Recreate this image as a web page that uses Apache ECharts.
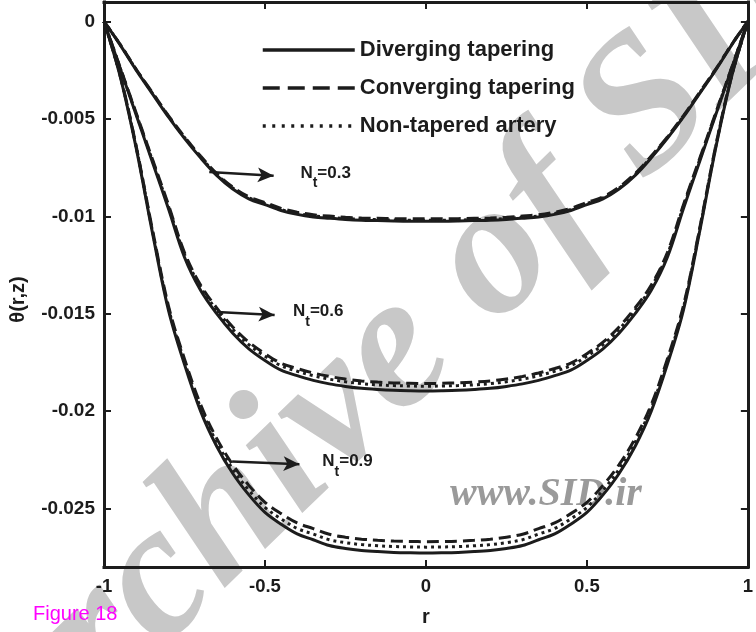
<!DOCTYPE html>
<html>
<head>
<meta charset="utf-8">
<script src="https://cdn.jsdelivr.net/npm/echarts@6/dist/echarts.min.js"></script>
<style>
  html, body { margin: 0; padding: 0; background: #fff; }
  #chart { width: 756px; height: 632px; }
</style>
</head>
<body>
<div id="chart"></div>
<script>
// Radial coordinate r
const r = [-1, -0.95, -0.9, -0.85, -0.8, -0.75, -0.7, -0.65, -0.6, -0.55, -0.5, -0.45, -0.4, -0.35, -0.3, -0.25, -0.2, -0.15, -0.1, -0.05, 0,
           0.05, 0.1, 0.15, 0.2, 0.25, 0.3, 0.35, 0.4, 0.45, 0.5, 0.55, 0.6, 0.65, 0.7, 0.75, 0.8, 0.85, 0.9, 0.95, 1];

// Temperature profile theta(r,z), Nt = 0.3
const div03 = [0, -0.0012, -0.0025, -0.0037, -0.0049, -0.0060, -0.0070, -0.0079, -0.0086, -0.0091, -0.0094, -0.0097, -0.0099, -0.01003, -0.0101, -0.01016, -0.0102, -0.01022, -0.01024, -0.01025, -0.01025,
               -0.01025, -0.01024, -0.01022, -0.0102, -0.01016, -0.0101, -0.01003, -0.0099, -0.0097, -0.0094, -0.0091, -0.0086, -0.0079, -0.0070, -0.0060, -0.0049, -0.0037, -0.0025, -0.0012, 0];
const con03 = [0, -0.00117, -0.00245, -0.00364, -0.00483, -0.00592, -0.00691, -0.0078, -0.0085, -0.0090, -0.00929, -0.00959, -0.00979, -0.00992, -0.00999, -0.01005, -0.01009, -0.0101, -0.01012, -0.01013, -0.01013,
               -0.01013, -0.01012, -0.0101, -0.01009, -0.01005, -0.00999, -0.00992, -0.00979, -0.00959, -0.00929, -0.0090, -0.0085, -0.0078, -0.00691, -0.00592, -0.00483, -0.00364, -0.00245, -0.00117, 0];
const non03 = [0, -0.00118, -0.00247, -0.00367, -0.00486, -0.00595, -0.00695, -0.00785, -0.00855, -0.00905, -0.00935, -0.00965, -0.00985, -0.00998, -0.01005, -0.01011, -0.01015, -0.01017, -0.01019, -0.0102, -0.0102,
               -0.0102, -0.01019, -0.01017, -0.01015, -0.01011, -0.01005, -0.00998, -0.00985, -0.00965, -0.00935, -0.00905, -0.00855, -0.00785, -0.00695, -0.00595, -0.00486, -0.00367, -0.00247, -0.00118, 0];

// Nt = 0.6
const div06 = [0, -0.0024, -0.0048, -0.0072, -0.0096, -0.0121, -0.0138, -0.0150, -0.0160, -0.0168, -0.0174, -0.0179, -0.01818, -0.01842, -0.0186, -0.01873, -0.01883, -0.01889, -0.01893, -0.01895, -0.01896,
               -0.01895, -0.01893, -0.01889, -0.01883, -0.01873, -0.0186, -0.01842, -0.01818, -0.0179, -0.0174, -0.0168, -0.0160, -0.0150, -0.0138, -0.0121, -0.0096, -0.0072, -0.0048, -0.0024, 0];
const con06 = [0, -0.00235, -0.0047, -0.00705, -0.0094, -0.01186, -0.01353, -0.0147, -0.01568, -0.01646, -0.01705, -0.01754, -0.01781, -0.01804, -0.01822, -0.01835, -0.01845, -0.01851, -0.01855, -0.01857, -0.01858,
               -0.01857, -0.01855, -0.01851, -0.01845, -0.01835, -0.01822, -0.01804, -0.01781, -0.01754, -0.01705, -0.01646, -0.01568, -0.0147, -0.01353, -0.01186, -0.0094, -0.00705, -0.0047, -0.00235, 0];
const non06 = [0, -0.00237, -0.00474, -0.00711, -0.00948, -0.01195, -0.01363, -0.01481, -0.0158, -0.01659, -0.01718, -0.01767, -0.01795, -0.01818, -0.01836, -0.01849, -0.01859, -0.01865, -0.01869, -0.01871, -0.01872,
               -0.01871, -0.01869, -0.01865, -0.01859, -0.01849, -0.01836, -0.01818, -0.01795, -0.01767, -0.01718, -0.01659, -0.0158, -0.01481, -0.01363, -0.01195, -0.00948, -0.00711, -0.00474, -0.00237, 0];

// Nt = 0.9
const div09 = [0, -0.0028, -0.0065, -0.0108, -0.0148, -0.0176, -0.0200, -0.0218, -0.0232, -0.0243, -0.0252, -0.0258, -0.0263, -0.0266, -0.0269, -0.02705, -0.02715, -0.02721, -0.02725, -0.02727, -0.02728,
               -0.02727, -0.02725, -0.02721, -0.02715, -0.02705, -0.0269, -0.0266, -0.0263, -0.0258, -0.0252, -0.0243, -0.0232, -0.0218, -0.0200, -0.0176, -0.0148, -0.0108, -0.0065, -0.0028, 0];
const con09 = [0, -0.00275, -0.0064, -0.01064, -0.01458, -0.01732, -0.01966, -0.0214, -0.02275, -0.02381, -0.02468, -0.02526, -0.02574, -0.02603, -0.02632, -0.02647, -0.02657, -0.02663, -0.02667, -0.02669, -0.0267,
               -0.02669, -0.02667, -0.02663, -0.02657, -0.02647, -0.02632, -0.02603, -0.02574, -0.02526, -0.02468, -0.02381, -0.02275, -0.0214, -0.01966, -0.01732, -0.01458, -0.01064, -0.0064, -0.00275, 0];
const non09 = [0, -0.00277, -0.00644, -0.01071, -0.01468, -0.01745, -0.01982, -0.0216, -0.02298, -0.02406, -0.02494, -0.02553, -0.02602, -0.02631, -0.0266, -0.02675, -0.02685, -0.02691, -0.02695, -0.02697, -0.02698,
               -0.02697, -0.02695, -0.02691, -0.02685, -0.02675, -0.0266, -0.02631, -0.02602, -0.02553, -0.02494, -0.02406, -0.02298, -0.0216, -0.01982, -0.01745, -0.01468, -0.01071, -0.00644, -0.00277, 0];

const ntValues = ['0.3', '0.6', '0.9'];
const seriesNames = ['Diverging tapering', 'Converging tapering', 'Non-tapered artery'];
const yTicks = [0, -0.005, -0.01, -0.015, -0.02, -0.025];

// Annotation anchors (data coordinates): arrow tail, arrow head, label anchor
const notes = [
  { tail: [-0.673, -0.00772], head: [-0.473, -0.00792], text: [-0.390, -0.00800] },
  { tail: [-0.649, -0.01491], head: [-0.470, -0.01506], text: [-0.413, -0.01510] },
  { tail: [-0.602, -0.02258], head: [-0.393, -0.02273], text: [-0.322, -0.02280] }
];

const INK = '#1c1c1c';
const FONT = '"Liberation Sans", Arial, Helvetica, sans-serif';

const lineStyles = [
  { type: 'solid', width: 3 },
  { type: [12, 6], width: 3 },
  { type: [3, 4], width: 3 }
];

const groups = [
  [div03, con03, non03],
  [div06, con06, non06],
  [div09, con09, non09]
];

const pairs = ys => r.map((x, i) => [x, ys[i]]);

const series = [];
groups.forEach((g, gi) => {
  g.forEach((ys, si) => {
    const s = {
      name: seriesNames[si],
      type: 'line',
      xAxisIndex: 0,
      yAxisIndex: 0,
      data: pairs(ys),
      smooth: 0.35,
      symbol: 'none',
      z: 3 + si,
      lineStyle: Object.assign({ color: INK, cap: 'butt' }, lineStyles[si]),
      itemStyle: { color: INK },
      emphasis: { disabled: true },
      animation: false
    };
    if (si === 0) {
      const n = notes[gi];
      s.markLine = {
        silent: true,
        symbol: ['none', 'arrow'],
        symbolSize: [11, 16],
        animation: false,
        lineStyle: { color: INK, width: 2.5, type: 'solid' },
        label: { show: false },
        data: [[{ coord: n.tail }, { coord: n.head }]]
      };
      s.markPoint = {
        silent: true,
        animation: false,
        symbol: 'circle',
        symbolSize: 0,
        itemStyle: { color: 'rgba(0,0,0,0)' },
        data: [{
          coord: n.text,
          label: {
            show: true,
            position: 'right',
            distance: 0,
            formatter: '{n|N}{s|t}{n|=' + ntValues[gi] + '}',
            rich: {
              n: { fontFamily: FONT, fontWeight: 'bold', fontSize: 17, color: INK, verticalAlign: 'top', lineHeight: 26 },
              s: { fontFamily: FONT, fontWeight: 'bold', fontSize: 14, color: INK, verticalAlign: 'bottom', lineHeight: 26, padding: [12, 0, 0, 0] }
            }
          }
        }]
      };
    }
    series.push(s);
  });
});

// Box frame: every side is an axis line with ticks pointing into the plot
const frameLine = { show: true, onZero: false, lineStyle: { color: INK, width: 3, cap: 'square' } };
const tick = () => ({ show: true, inside: false, length: -7, lineStyle: { color: INK, width: 2 } });

const chart = echarts.init(document.getElementById('chart'), null, { renderer: 'canvas' });
chart.setOption({
  backgroundColor: '#ffffff',
  animation: false,
  grid: { left: 101, right: 6, top: 2, bottom: 63, show: false },
  legend: {
    orient: 'vertical',
    left: 256, top: 34,
    itemWidth: 92, itemHeight: 20, itemGap: 16,
    selectedMode: false,
    textStyle: { fontFamily: FONT, fontWeight: 'bold', fontSize: 22, color: INK, lineHeight: 20 },
    data: [
      { name: seriesNames[0], itemStyle: { opacity: 0 }, lineStyle: { type: 'solid', width: 3.5, color: INK, opacity: 1 } },
      { name: seriesNames[1], itemStyle: { opacity: 0 }, lineStyle: { type: [17, 8], width: 3.5, color: INK, opacity: 1 } },
      { name: seriesNames[2], itemStyle: { opacity: 0 }, lineStyle: { type: [3, 6.5], width: 3.5, color: INK, opacity: 1 } }
    ]
  },
  xAxis: [
    {
      type: 'value', position: 'bottom', min: -1, max: 1, interval: 0.5,
      name: 'r', nameLocation: 'middle', nameGap: 40,
      nameTextStyle: { fontFamily: FONT, fontWeight: 'bold', fontSize: 20, color: INK },
      axisLine: frameLine,
      axisTick: tick(),
      splitLine: { show: false },
      axisLabel: { margin: 10, fontFamily: FONT, fontWeight: 'bold', fontSize: 18.5, color: INK, formatter: v => String(v) }
    },
    {
      type: 'value', position: 'top', min: -1, max: 1, interval: 0.5,
      axisLine: frameLine, axisTick: tick(), splitLine: { show: false }, axisLabel: { show: false }
    }
  ],
  yAxis: [
    {
      type: 'value', position: 'left', min: -0.028, max: 0.001,
      name: 'θ(r,z)', nameLocation: 'middle', nameGap: 76, nameRotate: 90,
      nameTextStyle: { fontFamily: FONT, fontWeight: 'bold', fontSize: 20, color: INK, padding: [0, 30, 0, 0] },
      axisLine: frameLine,
      axisTick: Object.assign(tick(), { customValues: yTicks }),
      splitLine: { show: false },
      axisLabel: { customValues: yTicks, margin: 9, fontFamily: FONT, fontWeight: 'bold', fontSize: 19, color: INK, formatter: v => String(v) }
    },
    {
      type: 'value', position: 'right', min: -0.028, max: 0.001,
      axisLine: frameLine,
      axisTick: Object.assign(tick(), { customValues: yTicks }),
      splitLine: { show: false },
      axisLabel: { show: false, customValues: yTicks }
    }
  ],
  graphic: [
    {
      type: 'text', x: 410, y: 340, rotation: 44 * Math.PI / 180, z: -10, silent: true,
      style: { text: 'Archive of SID', font: 'italic bold 192px "Liberation Serif", "Times New Roman", serif', fill: '#c8c8c8', align: 'center', verticalAlign: 'middle' }
    },
    {
      type: 'text', x: 450, y: 495, z: -10, silent: true,
      style: { text: 'www.SID.ir', font: 'italic bold 40px "Liberation Serif", "Times New Roman", serif', fill: '#9a9a9a', align: 'left', verticalAlign: 'middle' }
    },
    {
      type: 'text', x: 33, y: 614, silent: true,
      style: { text: 'Figure 18', font: '20px "Liberation Sans", Arial, sans-serif', fill: '#ff00ff', align: 'left', verticalAlign: 'middle' }
    }
  ],
  series: series
});
</script>
</body>
</html>
